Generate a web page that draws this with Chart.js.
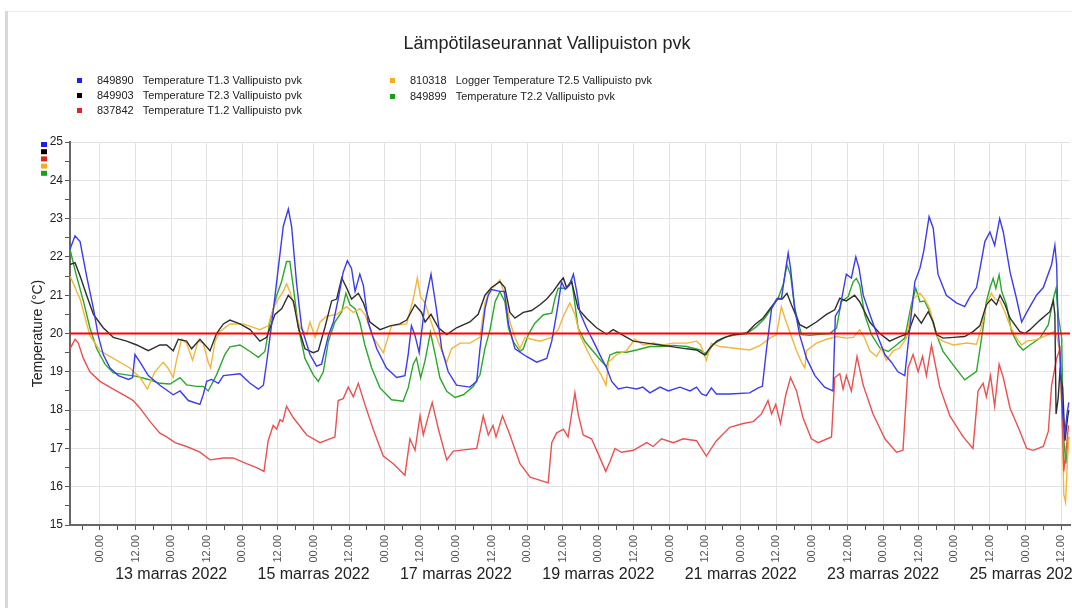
<!DOCTYPE html>
<html>
<head>
<meta charset="utf-8">
<title>Lämpötilaseurannat Vallipuiston pvk</title>
<script src="https://cdn.jsdelivr.net/npm/chart.js@4.4.0/dist/chart.umd.min.js"></script>
<style>
  body { margin: 0; background: #fff; }
  #wrap { position: relative; width: 1072px; height: 608px; overflow: hidden; background: #fff; }
  #graph { position: absolute; left: 0; top: 0; }
  .frameLeft { position: absolute; left: 5px; top: 11px; width: 3px; bottom: 0; background: #d8d8d8; }
  .frameTop { position: absolute; left: 8px; top: 11px; right: 0; height: 1px; background: #ebebeb; }
  .leg { position: absolute; font: 11px "Liberation Sans", Arial, sans-serif; color: #222; white-space: nowrap; line-height: 13px; }
  .leg i { position: absolute; width: 5px; height: 5px; left: -20px; top: 4px; }
  .leg span { margin-right: 9px; }
</style>
</head>
<body>
<div id="wrap">
  <canvas id="graph" width="1072" height="608"></canvas>
  <div class="frameLeft"></div>
  <div class="frameTop"></div>
  <div id="legend"></div>
</div>
<script>
// aika = tunteja 13.11.2022 klo 00.00 alkaen, arvo = °C
const hourLabels = ['00.00', '12.00'];
const dayLabels = ['13 marras 2022', '15 marras 2022', '17 marras 2022', '19 marras 2022',
                   '21 marras 2022', '23 marras 2022', '25 marras 2022'];
const dayCentres = [24, 72, 120, 168, 216, 264, 312];
const tempMin = 15, tempMax = 25, target = 20;
const hourMin = -10.1, hourMax = 327;

const seriesIds = ['849890', '849903', '837842', '810318', '849899'];
const seriesNames = ['Temperature T1.3 Vallipuisto pvk', 'Temperature T2.3 Vallipuisto pvk',
                     'Temperature T1.2 Vallipuisto pvk', 'Logger Temperature T2.5 Vallipuisto pvk',
                     'Temperature T2.2 Vallipuisto pvk'];

const t13 = [[-10.1,22.2],[-8.4,22.55],[-6.7,22.4],[-4.5,21.5],[-2.2,20.65],[-0.6,19.95],[1.1,19.45],[3.4,19.1],[6.2,18.9],[9.6,18.8],[11,18.85],[11.8,19.45],[13.5,19.25],[16.3,18.9],[20.2,18.65],[24.7,18.4],[27,18.5],[29.8,18.25],[33.7,18.15],[34.8,18.4],[36,18.75],[37.6,18.8],[39.9,18.7],[41.6,18.9],[47.2,18.95],[50.6,18.7],[53.4,18.55],[55.1,18.65],[56.2,19.25],[57.9,20.25],[60.1,21.7],[61.8,22.8],[63.5,23.25],[64.6,22.8],[66.3,21.3],[68,20.15],[70.8,19.45],[73,19.15],[74.7,19.2],[77,19.95],[78.7,20.3],[80.3,20.9],[82,21.6],[83.4,21.9],[84.8,21.7],[86,21.1],[87.6,21.55],[88.8,21.25],[90.4,20.3],[93.3,19.6],[96.6,19.1],[100,18.85],[102.8,18.9],[103.9,19.45],[105,20.2],[106.2,19.95],[107.6,19.5],[109.6,20.8],[111.6,21.55],[113.3,20.7],[115.2,19.6],[117.4,19.0],[120.2,18.65],[124.7,18.6],[127,18.75],[128.1,19.6],[129.8,20.65],[130.9,21.0],[132,21.15],[134.8,21.1],[136.3,21.1],[137.7,20.25],[139.9,19.6],[143.8,19.4],[147.2,19.25],[150.6,19.35],[152.3,19.8],[154,20.55],[155.6,21.35],[156.8,21.15],[158.2,21.25],[159.6,21.55],[160.7,21.1],[161.8,20.55],[164,20.15],[166.3,19.8],[169.1,19.35],[170.8,19.1],[172.5,18.75],[174.7,18.55],[177.5,18.6],[180.9,18.55],[183,18.6],[185.4,18.45],[188.8,18.6],[191.6,18.5],[195.5,18.6],[198.9,18.5],[201.1,18.6],[202.8,18.42],[204.4,18.38],[206.1,18.58],[207.8,18.42],[212.3,18.42],[219,18.45],[221.9,18.58],[223.3,18.62],[224.7,19.6],[226.4,20.65],[228.1,20.9],[229.7,20.9],[231.2,21.7],[232,22.1],[232.8,21.7],[234.2,20.65],[235.9,19.95],[238.2,19.35],[241,18.9],[244.3,18.6],[247.1,18.5],[247.9,20.45],[249.4,20.65],[251.6,21.55],[253.3,21.45],[254.8,22.0],[255.9,21.7],[257.3,21.0],[259.5,20.5],[262.3,19.9],[264.6,19.45],[266.8,19.25],[269,19.0],[271.3,18.9],[273,20.15],[274.7,21.35],[276.4,21.7],[277.7,22.15],[279.5,23.05],[280.9,22.75],[282.5,21.55],[285.3,21.0],[288.7,20.8],[291.5,20.7],[293.2,20.95],[295.5,21.2],[298.3,22.4],[300,22.65],[301.6,22.3],[303.3,23.0],[304.5,22.65],[306.8,21.6],[309,20.9],[310.7,20.3],[312.4,20.55],[315.7,21.0],[318,21.2],[320.8,21.8],[321.9,22.3],[322.5,21.8],[323,20.1],[323.6,19.5],[324.5,17.9],[325.3,17.4],[326,17.9],[326.6,18.2]];

const t23 = [[-10.1,21.8],[-8.4,21.85],[-6.7,21.5],[-4.5,21.0],[-2.2,20.5],[1.1,20.15],[4.5,19.9],[9,19.8],[12.4,19.7],[16.3,19.55],[20.2,19.7],[22.5,19.7],[24.7,19.55],[26.4,19.85],[29.2,19.8],[30.9,19.6],[33.7,19.85],[37.1,19.55],[39.3,20.0],[41.6,20.25],[43.8,20.35],[47.2,20.25],[50.6,20.1],[53.9,19.8],[56.2,19.9],[59,20.5],[61.3,20.65],[63.5,21.0],[65.2,20.85],[66.9,20.15],[69.1,19.6],[71.9,19.5],[73.6,19.55],[75.8,20.15],[78.1,20.85],[79.8,20.9],[81.5,21.45],[83.1,21.2],[84.8,20.9],[87.1,21.05],[88.8,20.8],[91,20.3],[94.4,20.1],[97.8,20.2],[101.1,20.25],[103.4,20.35],[106.2,20.75],[108.4,20.55],[109.6,20.3],[111.6,20.5],[114.1,20.15],[116.9,19.97],[120.2,20.15],[124.7,20.3],[127.5,20.5],[129.8,21.0],[132,21.2],[134.8,21.35],[136.5,21.2],[138.2,20.55],[139.9,20.4],[142.7,20.55],[145.5,20.6],[148.3,20.75],[150.6,20.9],[152.8,21.1],[155.1,21.35],[156.2,21.45],[157.3,21.2],[159,21.35],[161.2,20.65],[164,20.4],[167.4,20.15],[170.8,19.98],[173,20.1],[176.4,19.95],[179.8,19.8],[184.3,19.75],[188.8,19.7],[193.3,19.65],[197.8,19.6],[201.1,19.57],[203.9,19.44],[205.6,19.62],[207.9,19.8],[210,19.88],[213.4,19.97],[217.9,20.0],[220.7,20.23],[223.5,20.4],[226.4,20.7],[228.6,20.92],[230,20.9],[231.6,21.05],[233.1,20.75],[235.9,20.23],[238.2,20.14],[241.5,20.3],[244.9,20.5],[247.7,20.62],[249.4,20.92],[251.6,20.85],[254.4,21.0],[256.1,20.83],[259.5,20.3],[262.9,20.0],[266.2,19.8],[269,19.9],[272.4,20.0],[274.7,20.5],[276.9,20.27],[279.2,20.57],[280.9,20.3],[282,19.97],[284.2,19.88],[287.6,19.9],[291.5,19.92],[294.3,20.05],[296.6,20.2],[298.8,20.75],[300.5,20.9],[302.2,20.75],[303.4,21.0],[305.1,20.75],[306.8,20.4],[310.1,20.05],[311.8,20.0],[313.5,20.1],[316.9,20.35],[320.2,20.57],[321.4,20.85],[321.9,20.5],[322.3,17.9],[323,18.3],[323.6,19.0],[324.5,18.6],[325.3,17.2],[326.2,17.8],[326.6,18.0]];

const t12 = [[-10.1,19.6],[-8.4,19.85],[-7.3,19.75],[-5.6,19.35],[-3.4,19.0],[0,18.75],[4.5,18.55],[9,18.35],[11.2,18.25],[13.5,18.05],[16.9,17.7],[20.2,17.4],[22.5,17.3],[25.3,17.15],[29.2,17.05],[33.7,16.9],[37.1,16.7],[41.6,16.75],[44.9,16.75],[49.4,16.6],[52.8,16.5],[55.3,16.4],[56.7,17.2],[58.4,17.6],[59.6,17.5],[60.7,17.75],[61.6,17.7],[62.9,18.1],[65.2,17.8],[69.7,17.35],[74.2,17.15],[77.5,17.25],[79.2,17.3],[80.3,18.25],[82,18.3],[83.7,18.6],[85.4,18.35],[87.1,18.7],[89.3,18.15],[92.1,17.5],[95.5,16.8],[98.9,16.6],[102.8,16.3],[104.5,17.25],[106.2,16.95],[107.9,17.85],[109,17.35],[110.7,17.85],[112,18.2],[114.1,17.5],[116.9,16.7],[119.1,16.93],[127,17.0],[129.2,17.85],[130.9,17.35],[132.5,17.6],[133.5,17.3],[135.7,17.85],[138.2,17.35],[141.6,16.6],[145,16.25],[151.1,16.1],[152.3,17.15],[153.9,17.4],[156.2,17.5],[157.8,17.3],[158.8,17.8],[160.1,18.45],[161.2,17.9],[162.9,17.35],[165.7,17.25],[168,16.85],[170.5,16.4],[171.9,16.65],[173.6,17.0],[175.8,16.9],[179.8,16.95],[184.3,17.15],[186.5,17.05],[189.3,17.25],[193.3,17.15],[196.6,17.25],[201.1,17.2],[204.4,16.8],[207.8,17.2],[212.3,17.55],[216.8,17.65],[220.2,17.7],[223,17.9],[225.2,18.25],[226.4,17.9],[227.8,18.15],[229.4,17.65],[231.2,18.4],[232.8,18.85],[234.8,18.5],[237,17.8],[239.8,17.25],[242.1,17.15],[246.6,17.3],[247.7,18.85],[249.4,18.95],[250.5,18.55],[251.6,18.9],[253.3,18.5],[255.2,19.4],[257.3,18.65],[260.6,17.9],[264.6,17.25],[268.5,16.9],[270.7,16.95],[272.4,19.1],[274.1,19.45],[275.8,19.0],[277.3,19.4],[278.6,18.9],[280.3,19.7],[283.1,18.6],[286.5,17.85],[291,17.3],[294.3,17.0],[296,18.5],[297.7,18.7],[298.8,18.35],[300.2,18.9],[301.6,18.1],[303.1,19.2],[304.5,18.85],[306.8,18.05],[310.1,17.45],[312.4,17.0],[314.6,16.95],[318,17.05],[319.7,17.45],[320.8,18.65],[322.5,19.35],[323.6,19.6],[324.3,18.0],[324.9,16.4],[325.6,16.9],[326.5,17.6]];

const t25 = [[-10.1,21.5],[-6.7,20.9],[-3.4,19.95],[0,19.55],[4.5,19.35],[10.1,19.1],[13.5,18.85],[16,18.55],[18.5,19.0],[21.3,19.25],[22.9,19.1],[24.7,18.85],[25.8,19.3],[27.5,19.85],[29.2,19.75],[31.2,19.3],[33.1,19.8],[34.8,19.75],[36.5,19.25],[37.3,19.1],[38.8,19.8],[40.4,20.05],[43.8,20.25],[48.3,20.25],[53.9,20.1],[56.7,20.2],[58.4,20.65],[60.1,20.9],[61.8,21.1],[62.9,21.3],[64,21.1],[65.7,20.65],[67.4,20.15],[69.7,19.98],[70.8,20.3],[72.5,19.9],[74.2,20.3],[76.4,20.45],[79.8,20.5],[83.1,20.7],[85.4,20.55],[87.6,20.65],[89.3,20.5],[92.1,19.9],[95.5,19.5],[98.3,20.2],[103.4,20.25],[105.6,20.9],[107,21.45],[108.1,20.95],[109.6,20.8],[111.2,20.4],[113.5,19.9],[115.7,19.45],[116.9,19.25],[118.5,19.6],[121.4,19.75],[124.7,19.75],[128.1,19.9],[129.8,20.8],[131.5,21.15],[133.2,21.25],[134.8,21.4],[136.5,21.0],[138.2,20.3],[139.9,19.9],[141.6,19.6],[143.3,19.9],[145.5,19.85],[148.3,19.8],[152.3,19.9],[154.5,20.1],[156.2,20.45],[158.4,20.8],[160.1,20.5],[161.8,19.95],[164,19.6],[166.3,19.25],[169.1,18.9],[170.6,18.65],[171.4,19.25],[174.2,19.45],[177.5,19.55],[180.3,19.85],[183.2,19.7],[186.5,19.75],[189.8,19.7],[193.3,19.75],[197.8,19.75],[201.1,19.8],[202.5,19.7],[204.4,19.3],[206.1,19.75],[208.9,19.66],[213.4,19.62],[219,19.57],[222.4,19.68],[225.8,19.88],[228.1,19.97],[229.7,20.7],[230.9,20.4],[232.5,20.05],[234.8,19.55],[236.5,19.25],[237.6,19.1],[238.2,19.55],[241.5,19.75],[244.9,19.85],[248.3,19.92],[251.6,19.88],[254,19.9],[256.1,20.1],[257.8,19.88],[259.5,19.55],[261.8,19.4],[263.4,19.62],[265.1,19.3],[267.4,19.55],[269.6,19.62],[271.9,19.88],[274.1,20.9],[276.4,21.05],[278,20.9],[279.7,20.65],[281.4,20.15],[282.5,19.88],[284.2,19.8],[287.6,19.7],[292.1,19.75],[295.5,19.72],[297.1,20.15],[298.8,20.75],[300.5,21.05],[301.7,20.9],[303.4,20.85],[305.1,20.55],[306.8,20.2],[309,19.88],[310.7,19.7],[312.4,19.8],[315.7,19.84],[319.1,19.95],[321.4,20.05],[322.5,19.95],[323.6,19.5],[324.5,17.4],[324.9,15.8],[325.5,15.6],[326.2,16.8],[326.6,17.3]];

const t22 = [[-10.1,22.2],[-7.9,21.5],[-5.6,20.85],[-3.4,20.15],[-1.1,19.6],[1.7,19.2],[4.5,18.97],[9,18.92],[12.4,18.88],[16.3,18.8],[20.2,18.7],[23.6,18.68],[27,18.85],[29.2,18.66],[32.6,18.62],[34.8,18.62],[36.5,18.5],[39.3,18.92],[42.1,19.45],[43.8,19.65],[47.2,19.7],[50.6,19.53],[53.4,19.38],[55.6,19.53],[57.3,20.3],[59.6,21.0],[61.2,21.35],[62.9,21.88],[64,21.88],[65.2,21.2],[66.9,20.15],[69.1,19.35],[71.9,18.92],[73.6,18.75],[75.3,19.0],[77,19.8],[79.2,20.3],[81.5,20.57],[82.9,21.05],[84.3,20.75],[86,20.65],[87.6,20.3],[89.3,19.7],[91.6,19.1],[94.4,18.58],[98.3,18.27],[102.2,18.23],[103.9,18.58],[105.6,19.2],[106.7,19.36],[108.1,18.84],[109.6,19.3],[111.4,20.03],[113,19.45],[114.6,18.84],[116.9,18.49],[119.7,18.33],[122.5,18.4],[125.9,18.62],[128.1,18.92],[129.8,19.62],[131.5,20.1],[133.2,20.83],[134.8,21.09],[136.5,20.83],[137.7,20.14],[139.3,19.79],[141.6,19.53],[142.7,19.6],[144.4,19.97],[146.6,20.27],[149.5,20.49],[152.3,20.53],[153.4,20.92],[154.5,21.18],[157.3,21.18],[159,21.4],[161.2,20.14],[163.5,19.79],[166.3,19.53],[169.1,19.27],[170.8,19.14],[171.9,19.44],[174.2,19.51],[177.5,19.51],[180.9,19.57],[185.4,19.66],[189,19.66],[193.3,19.69],[197.8,19.66],[202.3,19.57],[204.5,19.45],[206.7,19.72],[211.2,19.92],[215.7,19.98],[219,20.05],[221.3,20.18],[224.1,20.4],[226.4,20.66],[228.6,20.92],[230.3,21.27],[231.6,21.79],[232.8,21.53],[234.2,20.66],[236.5,19.97],[239.3,19.95],[242.6,19.98],[246,20.0],[248.3,20.14],[249.9,20.83],[252.2,20.96],[253.9,21.35],[255,21.44],[256.1,21.27],[257.8,20.49],[260.1,19.97],[262.9,19.62],[265.7,19.53],[268.5,19.7],[271.3,19.88],[273.5,20.75],[275,21.18],[276.4,20.83],[278,20.85],[279.7,20.57],[282,19.97],[284.2,19.53],[287.6,19.18],[291.5,18.79],[295.5,19.01],[297.7,20.14],[298.8,20.83],[300,21.18],[301.1,21.44],[302,21.18],[303.1,21.53],[304,21.09],[305.6,20.75],[307.3,20.05],[309.6,19.7],[311.2,19.57],[313.5,19.7],[316.9,19.88],[319.7,20.23],[321.4,20.92],[322.3,21.18],[323,20.49],[324.2,19.88],[324.7,17.45],[325.6,16.6],[326.6,17.3]];

const seriesData = [t13, t23, t12, t25, t22];

// värit: viiva ja selitteen neliö
const lineColors = ['#3b3bf2', '#2e2e2e', '#ec5050', '#f3b63c', '#2aa82a'];
const markColors = ['#1e1ef5', '#000000', '#e32424', '#f5ad1f', '#17a017'];
const fontFam = '"Liberation Sans", Arial, sans-serif';

Chart.defaults.font.family = fontFam;

const datasets = seriesData.map((arr, i) => ({
  label: seriesIds[i] + '  ' + seriesNames[i],
  data: arr.map(p => ({ x: p[0], y: p[1] })),
  borderColor: lineColors[i],
  borderWidth: 1.4,
  pointRadius: 0,
  tension: 0,
  order: i
}));
// raja-arvo 20 °C
datasets.push({
  label: 'raja',
  data: [{ x: hourMin, y: target }, { x: hourMax, y: target }],
  borderColor: '#ff0000',
  borderWidth: 2,
  pointRadius: 0,
  order: -1
});

// selite kahteen sarakkeeseen
const legend = document.getElementById('legend');
const legPos = [[97, 74], [97, 89], [97, 103.5], [410, 73.5], [410, 89.5]];
seriesIds.forEach((id, i) => {
  const d = document.createElement('div');
  d.className = 'leg';
  d.style.left = legPos[i][0] + 'px';
  d.style.top = legPos[i][1] + 'px';
  d.innerHTML = '<i style="background:' + markColors[i] + '"></i><span>' + id + '</span>' + seriesNames[i];
  legend.appendChild(d);
});

const markers = {
  id: 'markers',
  afterDraw(chart) {
    const c = chart.ctx;
    const top = chart.chartArea.top;
    const x = chart.scales.y.left + 17;
    markColors.forEach((col, i) => {
      c.fillStyle = col;
      c.fillRect(x, top + i * 7.2, 6, 5);
    });
  }
};

const gridCol = '#e3e3e3';
const ctx = document.getElementById('graph').getContext('2d');
new Chart(ctx, {
  type: 'line',
  data: { datasets },
  plugins: [markers],
  options: {
    responsive: false,
    animation: false,
    layout: { padding: { left: 24, right: 2, top: 0, bottom: 19 } },
    plugins: {
      legend: { display: false },
      tooltip: { enabled: false },
      title: {
        display: true,
        text: 'Lämpötilaseurannat Vallipuiston pvk',
        color: '#222',
        font: { size: 18, weight: 'normal', family: fontFam },
        padding: { top: 33, bottom: 87.4 }
      }
    },
    scales: {
      x: {
        type: 'linear',
        position: 'bottom',
        min: hourMin,
        max: hourMax,
        afterBuildTicks: s => {
          const t = [];
          for (let h = -6; h <= 324; h += 6) t.push({ value: h });
          s.ticks = t;
        },
        ticks: {
          autoSkip: false,
          minRotation: 90,
          maxRotation: 90,
          padding: 5,
          color: '#555',
          font: { size: 11 },
          callback: v => (v % 12 === 0) ? hourLabels[((v / 12) % 2 + 2) % 2] : ''
        },
        grid: {
          color: c => (c.tick && c.tick.value % 12 === 0) ? gridCol : 'rgba(0,0,0,0)',
          tickColor: '#555',
          tickLength: 5
        },
        border: { color: '#666', width: 2 },
        afterFit: s => { s.height = 40; s.paddingLeft = 0; s.paddingRight = 0; }
      },
      x2: {
        type: 'linear',
        position: 'bottom',
        min: hourMin,
        max: hourMax,
        afterBuildTicks: s => { s.ticks = dayCentres.map(v => ({ value: v })); },
        ticks: {
          autoSkip: false,
          minRotation: 0,
          maxRotation: 0,
          padding: 0,
          color: '#222',
          font: { size: 16 },
          callback: (v, i) => dayLabels[i]
        },
        grid: { display: false, drawTicks: false },
        border: { display: false },
        afterFit: s => { s.height = 24; s.paddingLeft = 0; s.paddingRight = 0; }
      },
      y: {
        type: 'linear',
        position: 'left',
        min: tempMin,
        max: tempMax,
        ticks: {
          stepSize: 0.5,
          maxTicksLimit: 100,
          autoSkip: false,
          padding: 2,
          color: '#222',
          font: { size: 12 },
          callback: v => Number.isInteger(v) ? String(v) : ''
        },
        grid: {
          color: c => (c.tick && Number.isInteger(c.tick.value)) ? gridCol : 'rgba(0,0,0,0)',
          tickColor: '#555',
          tickLength: 5
        },
        border: { color: '#666', width: 2 },
        title: {
          display: true,
          text: 'Temperature (°C)',
          color: '#222',
          font: { size: 14 },
          padding: { top: 6, bottom: 0 }
        },
        afterFit: s => { s.width = 46; s.paddingTop = 0; s.paddingBottom = 0; }
      }
    }
  }
});
</script>
</body>
</html>
